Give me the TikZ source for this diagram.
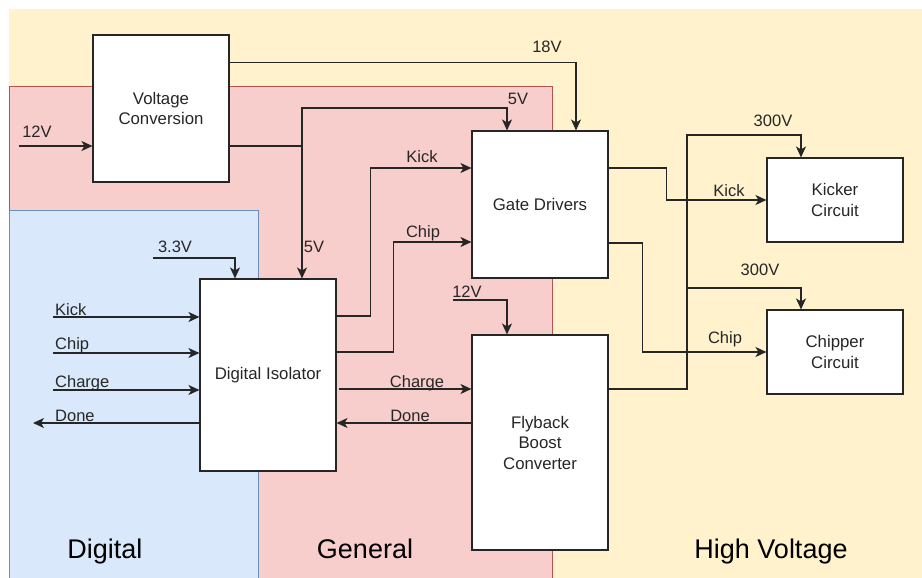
\documentclass[tikz,border=0pt]{standalone}
\usepackage{fontspec}
\setmainfont{Liberation Sans}
\usepackage{tikz}
\usetikzlibrary{arrows.meta, calc, positioning}
\definecolor{hvyellow}{HTML}{FFF2CC}
\definecolor{genred}{HTML}{F8CECC}
\definecolor{genredline}{HTML}{B85450}
\definecolor{digblue}{HTML}{DAE8FC}
\definecolor{digblueline}{HTML}{6C8EBF}
\definecolor{wirecol}{HTML}{262626}
\tikzstyle{block} = [rectangle, draw=wirecol, fill=white, line width=1.1pt, minimum width=136pt, align=center, text=wirecol, font=\fontsize{16.8}{20.5}\selectfont, inner sep=0pt]
\tikzstyle{wire} = [line width=1.1pt, draw=wirecol]
\tikzstyle{arrow} = [wire, -{Stealth[length=11pt,width=10pt,inset=3pt]}]
\tikzstyle{sig} = [font=\fontsize{16.5}{19}\selectfont, text=wirecol, inner sep=0pt, anchor=base]
\tikzstyle{zone} = [font=\fontsize{27}{32}\selectfont, text=black, inner sep=0pt, anchor=base]

\begin{document}
\begin{tikzpicture}[x=1pt, y=-1pt]
\useasboundingbox (0,0) rectangle (922,578);

\fill[hvyellow] (9,9) rectangle (922,578);
\filldraw[fill=genred, draw=genredline, line width=0.6pt] (9,86) rectangle (552,579);
\filldraw[fill=digblue, draw=digblueline, line width=0.6pt] (9,210) rectangle (258,579);

\node[zone] (zdigital) at (105,558) {Digital};
\node[zone] (zgeneral) at (365,558) {General};
\node[zone] (zhigh) at (771,558) {High Voltage};

\node[block, minimum height=147pt] (vc) at (161,108.5) {Voltage\\Conversion};
\node[block, minimum height=147pt] (gd) at (540,204.5) {Gate Drivers};
\node[block, minimum height=192pt] (di) at (268,375) {Digital Isolator};
\node[block, minimum height=215pt] (fb) at (540,442.5) {Flyback\\Boost\\Converter};
\node[block, minimum height=84pt] (kc) at (835,200) {Kicker\\Circuit};
\node[block, minimum height=84pt] (cc) at (835,352) {Chipper\\Circuit};

\coordinate (in12) at (19,146);
\coordinate (split5) at (302,146);
\coordinate (top5) at (302,108);
\coordinate (in33) at (153,258);
\coordinate (inkick) at (53,317);
\coordinate (inchip) at (53,353);
\coordinate (incharge) at (53,390);
\coordinate (outdone) at (33,423);
\coordinate (in12fb) at (453,300);
\coordinate (hvtop) at (687,135);
\coordinate (hvmid) at (687,288);

\draw[arrow] (in12) -- (in12 -| vc.west);
\draw[arrow] ([yshift=-28pt]vc.north east) -| ([xshift=36pt]gd.north);
\draw[arrow] (vc.east |- split5) -| ([xshift=34pt]di.north);
\draw[arrow] (split5) -- (top5) -| ([xshift=-33pt]gd.north);
\draw[arrow] (in33) -| ([xshift=-33pt]di.north);

\draw[arrow] (inkick) -- (inkick -| di.west);
\draw[arrow] (inchip) -- (inchip -| di.west);
\draw[arrow] (incharge) -- (incharge -| di.west);
\draw[arrow] (outdone -| di.west) -- (outdone);

\draw[arrow] ([yshift=59pt]di.east) -- ++(34,0) |- ([yshift=36.5pt]gd.west);
\draw[arrow] ([yshift=23pt]di.east) -- ++(57,0) |- ([yshift=-37.5pt]gd.west);
\draw[arrow] ([xshift=2pt,yshift=-14pt]di.east) -- ([yshift=-14pt]di.east -| fb.west);
\draw[arrow] ([yshift=-48pt]di.east -| fb.west) -- ([yshift=-48pt]di.east);
\draw[arrow] (in12fb) -| ([xshift=-33pt]fb.north);

\draw[arrow] ([yshift=36.5pt]gd.east) -- ++(58,0) |- (kc.west);
\draw[arrow] ([yshift=-38.5pt]gd.east) -- ++(34,0) |- (cc.west);
\draw[arrow] ([yshift=53.5pt]fb.east) -| (hvtop) -| ([xshift=-34pt]kc.north);
\draw[arrow] (hvmid) -| ([xshift=-34pt]cc.north);

\node[sig] (l12) at (37,138) {12V};
\node[sig] (l18) at (547,53) {18V};
\node[sig] (l5a) at (518,104) {5V};
\node[sig] (l5b) at (314,252) {5V};
\node[sig] (l33) at (175,252) {3.3V};
\node[sig, anchor=base west] (lkickin) at (55,315) {Kick};
\node[sig, anchor=base west] (lchipin) at (55,349) {Chip};
\node[sig, anchor=base west] (lchargein) at (55,387) {Charge};
\node[sig, anchor=base west] (ldoneout) at (55,421) {Done};
\node[sig] (lkickgd) at (422,162) {Kick};
\node[sig] (lchipgd) at (423,237) {Chip};
\node[sig] (l12fb) at (467,297) {12V};
\node[sig] (lcharge) at (417,387) {Charge};
\node[sig] (ldone) at (410,421) {Done};
\node[sig] (lkickkc) at (729,196) {Kick};
\node[sig] (lchipcc) at (725,343) {Chip};
\node[sig] (l300a) at (773,127) {300V};
\node[sig] (l300b) at (760,275) {300V};
\end{tikzpicture}
\end{document}
